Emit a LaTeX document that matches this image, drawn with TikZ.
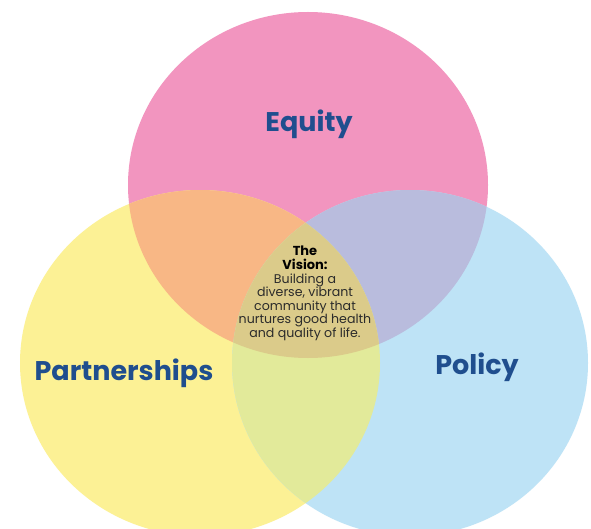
\documentclass[tikz,border=0pt]{standalone}
\usepackage{fontspec}
\setmainfont{Poppins}

\definecolor{eqpink}{HTML}{F295BF}
\definecolor{ptyellow}{HTML}{FCF195}
\definecolor{poblue}{HTML}{BEE3F6}
\definecolor{pinkyellow}{HTML}{F8B785}
\definecolor{pinkblue}{HTML}{B9BCDD}
\definecolor{yellowblue}{HTML}{E2EA9A}
\definecolor{allthree}{HTML}{DBCB8A}
\definecolor{labelblue}{HTML}{1F4E8E}
\definecolor{visiontext}{HTML}{2B2B2B}

\begin{document}
\begin{tikzpicture}[x=1pt, y=-1pt,
  lbl/.style={anchor=base, inner sep=0pt, text=labelblue,
    font=\bfseries\fontsize{27}{30}\selectfont},
  vis/.style={anchor=north, inner sep=0pt, align=center, text=visiontext,
    font=\fontsize{12.6}{13.6}\selectfont}]
\useasboundingbox (0,0) rectangle (591,529);
\fill[white] (0,0) rectangle (591,529);

% the three sets, pixel coords, y down
\def\equityset{(308,185) ellipse [x radius=180, y radius=173]}
\def\partnerset{(200,363) ellipse [x radius=180, y radius=173]}
\def\policyset{(410,363) ellipse [x radius=178, y radius=173]}

\fill[eqpink] \equityset;
\fill[ptyellow] \partnerset;
\fill[poblue] \policyset;

% overlaps
\begin{scope}
  \clip \equityset;
  \fill[pinkyellow] \partnerset;
  \fill[pinkblue] \policyset;
\end{scope}
\begin{scope}
  \clip \partnerset;
  \fill[yellowblue] \policyset;
  \clip \policyset;
  \fill[allthree] \equityset;
\end{scope}

\node[lbl] (equity) at (309,132) {Equity};
\node[lbl] (partner) at (124,380) {Partnerships};
\node[lbl] (policy) at (477,374) {Policy};

\node[vis] (vision) at (305,246) {%
  {\bfseries\color{black}\fontsize{13}{13.6}\selectfont The}\\
  {\bfseries\color{black}\fontsize{13}{13.6}\selectfont Vision:}\\
  Building a\\ diverse, vibrant\\ community that\\
  nurtures good health\\ and quality of life.};
\end{tikzpicture}
\end{document}
